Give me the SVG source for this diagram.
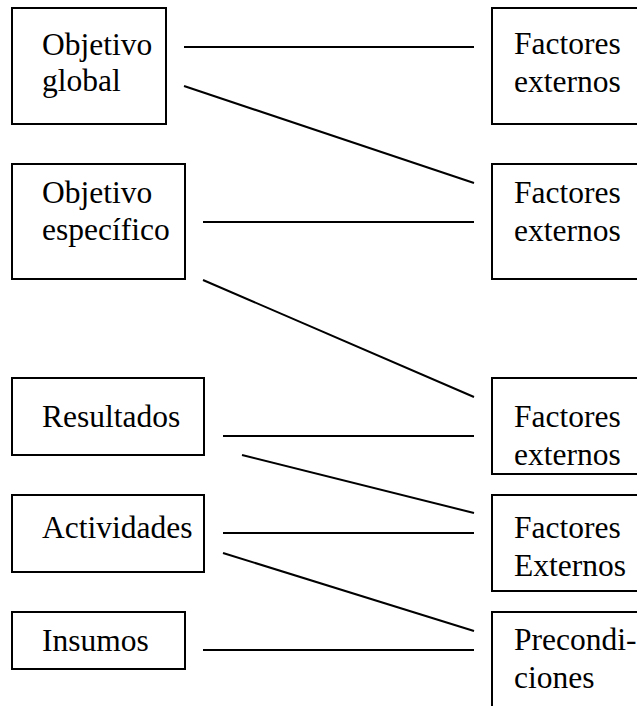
<svg xmlns="http://www.w3.org/2000/svg" width="637" height="706" viewBox="0 0 637 706">
<style>
.box{fill:#fff;stroke:#000;stroke-width:2}
.t{font-family:"Liberation Serif","Times New Roman",serif;font-size:31.5px;fill:#000}
.c line{stroke:#000;stroke-width:2}
</style>
<rect width="637" height="706" fill="#fff"/>
<g id="objetivo-global"><rect class="box" x="12" y="8" width="154" height="116"/><text class="t" x="42" y="55">Objetivo</text><text class="t" x="42" y="91">global</text></g>
<g id="objetivo-especifico"><rect class="box" x="12" y="164" width="173" height="115"/><text class="t" x="42" y="203">Objetivo</text><text class="t" x="42" y="240">específico</text></g>
<g id="resultados"><rect class="box" x="12" y="378" width="192" height="77"/><text class="t" x="42" y="427">Resultados</text></g>
<g id="actividades"><rect class="box" x="12" y="495" width="192" height="77"/><text class="t" x="42" y="538">Actividades</text></g>
<g id="insumos"><rect class="box" x="12" y="612" width="173" height="57"/><text class="t" x="42" y="651">Insumos</text></g>
<g id="factores-1"><rect class="box" x="492" y="8" width="160" height="116"/><text class="t" x="514" y="54">Factores</text><text class="t" x="514" y="92">externos</text></g>
<g id="factores-2"><rect class="box" x="492" y="164" width="160" height="115"/><text class="t" x="514" y="203">Factores</text><text class="t" x="514" y="241">externos</text></g>
<g id="factores-3"><rect class="box" x="492" y="378" width="160" height="96"/><text class="t" x="514" y="427">Factores</text><text class="t" x="514" y="465">externos</text></g>
<g id="factores-4"><rect class="box" x="492" y="495" width="160" height="96"/><text class="t" x="514" y="538">Factores</text><text class="t" x="514" y="576">Externos</text></g>
<g id="precondiciones"><rect class="box" x="492" y="612" width="160" height="120"/><text class="t" x="514" y="650">Precondi-</text><text class="t" x="514" y="688">ciones</text></g>
<g id="connectors" class="c">
<line x1="184" y1="47" x2="474" y2="47"/>
<line x1="184" y1="86" x2="474" y2="183"/>
<line x1="203" y1="222" x2="474" y2="222"/>
<line x1="203" y1="280" x2="474" y2="397"/>
<line x1="223" y1="436" x2="474" y2="436"/>
<line x1="242" y1="455" x2="474" y2="513"/>
<line x1="223" y1="533" x2="474" y2="533"/>
<line x1="223" y1="553" x2="474" y2="631"/>
<line x1="203" y1="650" x2="474" y2="650"/>
</g>
</svg>
